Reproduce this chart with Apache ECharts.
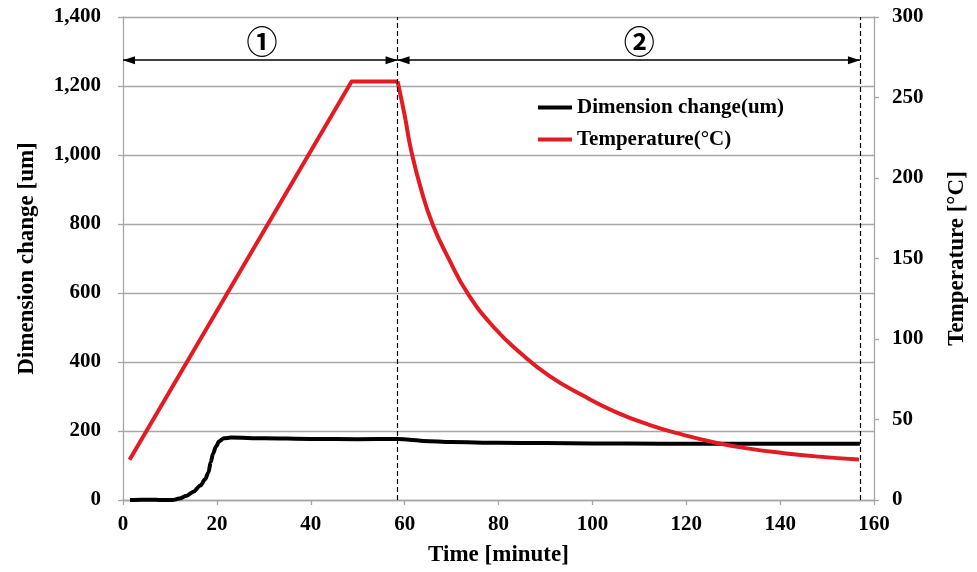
<!DOCTYPE html>
<html><head><meta charset="utf-8">
<script src="https://cdn.jsdelivr.net/npm/echarts@6/dist/echarts.min.js"></script>
<style>html,body{margin:0;padding:0;background:#fff}#c{width:977px;height:572px}</style>
</head><body><div id="c"></div>
<script>
// Dimension change (um) vs time (minute)
const dimTime  = [1.5, 4, 6, 8, 10.5, 12, 13.5, 15, 16.5, 17.5, 18.2, 18.7, 19.2, 19.8, 20.5, 21.5, 23, 30, 40, 50, 58.5, 61, 64, 70, 80, 90, 100, 115, 130, 157];
const dimValue = [0, 1, 1, 0, 0, 4, 12, 24, 42, 60, 80, 110, 135, 155, 170, 179, 181, 179, 177, 176, 177, 175, 171, 168, 166, 165, 164, 163, 163, 163];
// Temperature (°C): heating ramp and hold
const tempRampTime  = [1.4, 48.7, 58.5];
const tempRampValue = [25, 260, 260];
// Temperature (°C): cooling
const tempCoolTime  = [58.5, 60.0, 61.4, 63.6, 66.0, 69.2, 73.5, 79.1, 84.8, 90.9, 97.9, 105.0, 112.1, 119.2, 126.3, 133.4, 140.5, 147.6, 156.8];
const tempCoolValue = [260, 239, 217, 192, 171, 151, 128, 107, 91, 77, 65, 54.6, 46.7, 40.6, 35.6, 31.9, 29.2, 27.1, 25.2];
// Phase annotations
const phaseEdges = [0, 58.5, 157];
const phaseNames = ['①', '②'];
const phaseLabelX = [29.6, 110];
const arrowLevel = 1275;
const labelLevel = 1330;

const FONT = 'Liberation Serif';
const AX = '#a6a6a6';
const RED = '#e31b23';
const TEMP = 'Temperature(°C)';

const arrowLines = [];
for (let i = 0; i < phaseEdges.length - 1; i++) {
  arrowLines.push([{coord: [phaseEdges[i], arrowLevel]}, {coord: [phaseEdges[i + 1], arrowLevel]}]);
}
const phasePoints = phaseNames.map((n, i) => ({name: n, coord: [phaseLabelX[i], labelLevel]}));
const dashLines = phaseEdges.slice(1).map(v => ({xAxis: v}));

const chart = echarts.init(document.getElementById('c'));
chart.setOption({
  animation: false,
  backgroundColor: '#fff',
  grid: {left: 123, right: 102, top: 17, bottom: 70.5},
  legend: {
    orient: 'vertical', left: 538, top: 97, padding: 0,
    itemWidth: 34, itemHeight: 4, itemGap: 11, icon: 'rect',
    textStyle: {fontFamily: FONT, fontWeight: 'bold', fontSize: 21, color: '#000'},
    data: ['Dimension change(um)', TEMP]
  },
  xAxis: {
    type: 'value', min: 0, max: 160, interval: 20,
    axisLine: {show: true, lineStyle: {color: AX, width: 1.3}},
    axisTick: {show: true, length: 5, lineStyle: {color: AX, width: 1.3}},
    axisLabel: {fontFamily: FONT, fontWeight: 'bold', fontSize: 21, color: '#000', margin: 14},
    splitLine: {show: false},
    name: 'Time [minute]', nameLocation: 'middle', nameGap: 44,
    nameTextStyle: {fontFamily: FONT, fontWeight: 'bold', fontSize: 23, color: '#000'}
  },
  yAxis: [{
    type: 'value', min: 0, max: 1400, interval: 200, position: 'left',
    axisLine: {show: true, lineStyle: {color: AX, width: 1.3}},
    axisTick: {show: true, length: 5, lineStyle: {color: AX, width: 1.3}},
    axisLabel: {fontFamily: FONT, fontWeight: 'bold', fontSize: 21, color: '#000', margin: 22,
      formatter: v => v.toLocaleString('en-US')},
    splitLine: {show: true, lineStyle: {color: AX, width: 1.3}},
    name: 'Dimension change [um]', nameLocation: 'middle', nameGap: 84, nameRotate: 90,
    nameTextStyle: {fontFamily: FONT, fontWeight: 'bold', fontSize: 23, color: '#000'}
  }, {
    type: 'value', min: 0, max: 300, interval: 50, position: 'right',
    axisLine: {show: true, lineStyle: {color: AX, width: 1.3}},
    axisTick: {show: true, length: 5, lineStyle: {color: AX, width: 1.3}},
    axisLabel: {fontFamily: FONT, fontWeight: 'bold', fontSize: 21, color: '#000', margin: 18},
    splitLine: {show: false},
    name: 'Temperature [°C]', nameLocation: 'middle', nameGap: 72, nameRotate: 90,
    nameTextStyle: {fontFamily: FONT, fontWeight: 'bold', fontSize: 23, color: '#000'}
  }],
  series: [{
    name: 'Dimension change(um)', type: 'line', yAxisIndex: 0,
    data: dimTime.map((t, i) => [t, dimValue[i]]),
    showSymbol: false, smooth: 0.3, smoothMonotone: 'x',
    itemStyle: {color: '#000'}, lineStyle: {color: '#000', width: 4},
    z: 3,
    markLine: {
      silent: true, symbol: ['triangle', 'triangle'], symbolSize: [8, 12],
      symbolOffset: [[0, 6], [0, 6]],
      label: {show: false},
      lineStyle: {color: '#000', width: 1.5, type: 'solid'},
      data: arrowLines
    },
    markPoint: {
      silent: true, symbol: 'circle', symbolSize: 1,
      itemStyle: {color: 'rgba(0,0,0,0)'},
      label: {show: true, position: 'inside', formatter: '{b}',
        fontFamily: 'Noto Sans CJK JP', fontWeight: 'bold', fontSize: 31, color: '#000'},
      data: phasePoints
    }
  }, {
    name: TEMP, type: 'line', yAxisIndex: 1,
    data: tempRampTime.map((t, i) => [t, tempRampValue[i]]),
    showSymbol: false,
    itemStyle: {color: RED}, lineStyle: {color: RED, width: 4, join: 'round'},
    z: 4,
    markLine: {
      silent: true, symbol: 'none',
      label: {show: false},
      lineStyle: {color: '#000', width: 1.2, type: [5, 3]},
      data: dashLines
    }
  }, {
    name: TEMP, type: 'line', yAxisIndex: 1,
    data: tempCoolTime.map((t, i) => [t, tempCoolValue[i]]),
    showSymbol: false, smooth: 0.5,
    itemStyle: {color: RED}, lineStyle: {color: RED, width: 4, join: 'round'},
    z: 4
  }]
});
</script></body></html>
